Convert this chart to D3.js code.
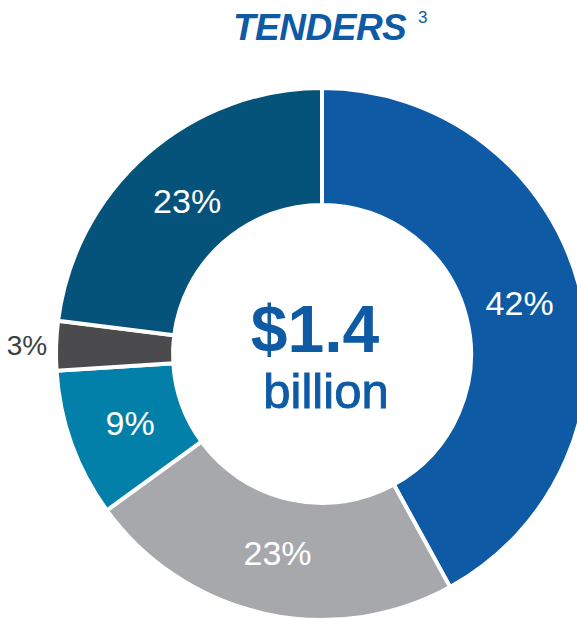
<!DOCTYPE html>
<html>
<head>
<meta charset="utf-8">
<script src="https://cdn.jsdelivr.net/npm/d3@7"></script>
<style>
    body { margin: 0; background: #fff; }
    svg { display: block; font-family: "Liberation Sans", Arial, sans-serif; }
</style>
</head>
<body>
<script>
// slices, clockwise from 12 o'clock
const categories = ['A', 'B', 'C', 'D', 'E'];
const shares = [42, 23, 9, 3, 23];
const colors = ['#0e5aa5', '#a7a8ab', '#0280a9', '#4b4a4d', '#05527a'];
const labels = ['42%', '23%', '9%', '3%', '23%'];

const width = 577, height = 619;
const cx = 322, cy = 354;
const outerR = 266, innerR = 149;

const svg = d3.select('body').append('svg')
    .attr('width', width)
    .attr('height', height);

// title
const title = svg.append('text')
    .attr('x', 233)
    .attr('y', 40)
    .attr('fill', '#0e5aa5')
    .style('font-weight', 'bold')
    .style('font-style', 'italic')
    .style('font-size', '37px')
    .style('letter-spacing', '-0.5px');
title.append('tspan').text('TENDERS');
title.append('tspan')
    .attr('x', 418)
    .attr('y', 23)
    .style('font-size', '17px')
    .style('font-style', 'normal')
    .style('font-weight', 'normal')
    .text('3');

const pie = d3.pie().sort(null).value(d => d.value);
const arcs = pie(categories.map((c, i) => ({ key: c, value: shares[i], color: colors[i], label: labels[i] })));

const arc = d3.arc().innerRadius(innerR).outerRadius(outerR);
const labelArc = d3.arc().innerRadius(204).outerRadius(204);

const g = svg.append('g').attr('transform', `translate(${cx},${cy})`);

g.selectAll('path.slice')
    .data(arcs)
    .enter()
    .append('path')
    .attr('class', 'slice')
    .attr('d', arc)
    .attr('fill', d => d.data.color)
    .attr('stroke', '#fff')
    .attr('stroke-width', 4);

// labels: inside for big slices, outside for the small one
g.selectAll('text.label')
    .data(arcs)
    .enter()
    .append('text')
    .attr('class', 'label')
    .attr('transform', d => {
        if (d.data.value < 5) {
            const a = (d.startAngle + d.endAngle) / 2;
            const r = outerR + 9;
            return `translate(${Math.sin(a) * r},${-Math.cos(a) * r})`;
        }
        const p = labelArc.centroid(d);
        return `translate(${p[0]},${p[1]})`;
    })
    .attr('text-anchor', d => d.data.value < 5 ? 'end' : 'middle')
    .attr('dy', '0.35em')
    .attr('fill', d => d.data.value < 5 ? '#404042' : '#fff')
    .style('font-size', d => d.data.value < 5 ? '28px' : '34px')
    .text(d => d.data.label);

// centre total
g.append('text')
    .attr('x', -7)
    .attr('y', -2)
    .attr('text-anchor', 'middle')
    .attr('fill', '#0e5aa5')
    .style('font-weight', 'bold')
    .style('font-size', '66px')
    .text('$1.4');
g.append('text')
    .attr('x', 4)
    .attr('y', 54)
    .attr('text-anchor', 'middle')
    .attr('fill', '#0e5aa5')
    .attr('stroke', '#0e5aa5')
    .attr('stroke-width', 0.9)
    .style('font-size', '49px')
    .text('billion');
</script>
</body>
</html>
